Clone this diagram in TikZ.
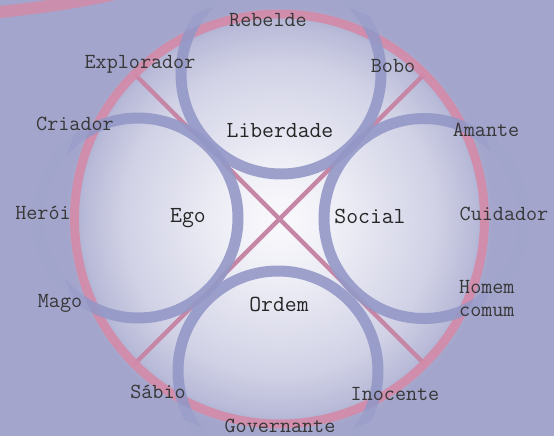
\documentclass[tikz,border=0pt]{standalone}
\usetikzlibrary{calc}
\definecolor{bgc}{RGB}{163,165,204}
\definecolor{gzero}{RGB}{250,250,253}
\definecolor{gone}{RGB}{236,236,245}
\definecolor{gtwo}{RGB}{208,209,229}
\definecolor{gthree}{RGB}{184,186,216}
\definecolor{pinkc}{RGB}{212,138,168}
\definecolor{xpink}{RGB}{198,134,166}
\definecolor{bluec}{RGB}{148,152,199}
\definecolor{txt}{RGB}{55,55,55}
\pgfdeclareradialshading{glow}{\pgfpointorigin}{color(0bp)=(gzero); color(6bp)=(gone); color(14bp)=(gtwo); color(17.5bp)=(gthree); color(19.2bp)=(bgc); color(50bp)=(bgc)}
\begin{document}
\begin{tikzpicture}[x=1pt,y=-1pt,
  lbl/.style={font=\ttfamily\fontsize{21.5}{24}\selectfont, text=txt, anchor=base, inner sep=0pt},
  inlbl/.style={lbl, font=\ttfamily\fontsize{23}{26}\selectfont, text=black!85},
  ring/.style={bluec, line width=11pt, opacity=.9},
  spoke/.style={xpink, line width=4.5pt}]
\useasboundingbox (0,0) rectangle (554,436);
\clip (0,0) rectangle (554,436);
% centres
\coordinate (C) at (279.5,219);
\coordinate (L) at (281,74);
\coordinate (E) at (138,218);
\coordinate (S) at (424,218.5);
\coordinate (O) at (278,371);
\coordinate (d1) at (134.5,74);
\coordinate (d2) at (424.5,364);
\coordinate (d3) at (424.5,74);
\coordinate (d4) at (134.5,364);
% background glow
\fill[bgc] (0,0) rectangle (554,436);
\shade[shading=glow] (C) circle[radius=280pt];
% diagonals
\draw[spoke] (d1) -- (d2);
\draw[spoke] (d3) -- (d4);
% refill circles (hide diagonals inside)
\begin{scope}
  \clip (L) circle[radius=100pt] (E) circle[radius=100pt] (S) circle[radius=100pt] (O) circle[radius=100pt];
  \shade[shading=glow] (C) circle[radius=280pt];
\end{scope}
% big pink circle
\draw[pinkc, line width=9pt, opacity=.9] (C) circle[radius=205pt];
% blue rings
\draw[ring] (L) circle[radius=100pt];
\draw[ring] (E) circle[radius=100pt];
\draw[ring] (S) circle[radius=100pt];
\draw[ring] (O) circle[radius=100pt];
% fade outside the big circle
\fill[bgc, opacity=.55, even odd rule] (0,0) rectangle (554,436) (C) circle[radius=210pt];
\fill[bgc, opacity=.85, even odd rule] (0,0) rectangle (554,436) (C) circle[radius=222pt];
% top-left pink arc
\draw[pinkc, line width=12pt, opacity=.85] (-10,13) .. controls (40,8) and (80,2) .. (120,-7);
% labels
\node[lbl] (rebelde) at (268,27) {Rebelde};
\node[lbl] (explorador) at (140,68) {Explorador};
\node[lbl] (bobo) at (393,72) {Bobo};
\node[lbl] (criador) at (75,130) {Criador};
\node[lbl] (amante) at (486,136) {Amante};
\node[lbl] (heroi) at (43,219) {Herói};
\node[lbl] (cuidador) at (504,220) {Cuidador};
\node[lbl, anchor=base west] (homem) at (459,293) {Homem};
\node[lbl, anchor=base west] (comum) at (459,316) {comum};
\node[lbl] (mago) at (60,307) {Mago};
\node[lbl] (sabio) at (158,398) {Sábio};
\node[lbl] (inocente) at (395,400) {Inocente};
\node[lbl] (governante) at (280,432) {Governante};
\node[inlbl] (liberdade) at (280,137) {Liberdade};
\node[inlbl] (ego) at (188,222) {Ego};
\node[inlbl] (social) at (370,223) {Social};
\node[inlbl] (ordem) at (279,311) {Ordem};
\end{tikzpicture}
\end{document}
